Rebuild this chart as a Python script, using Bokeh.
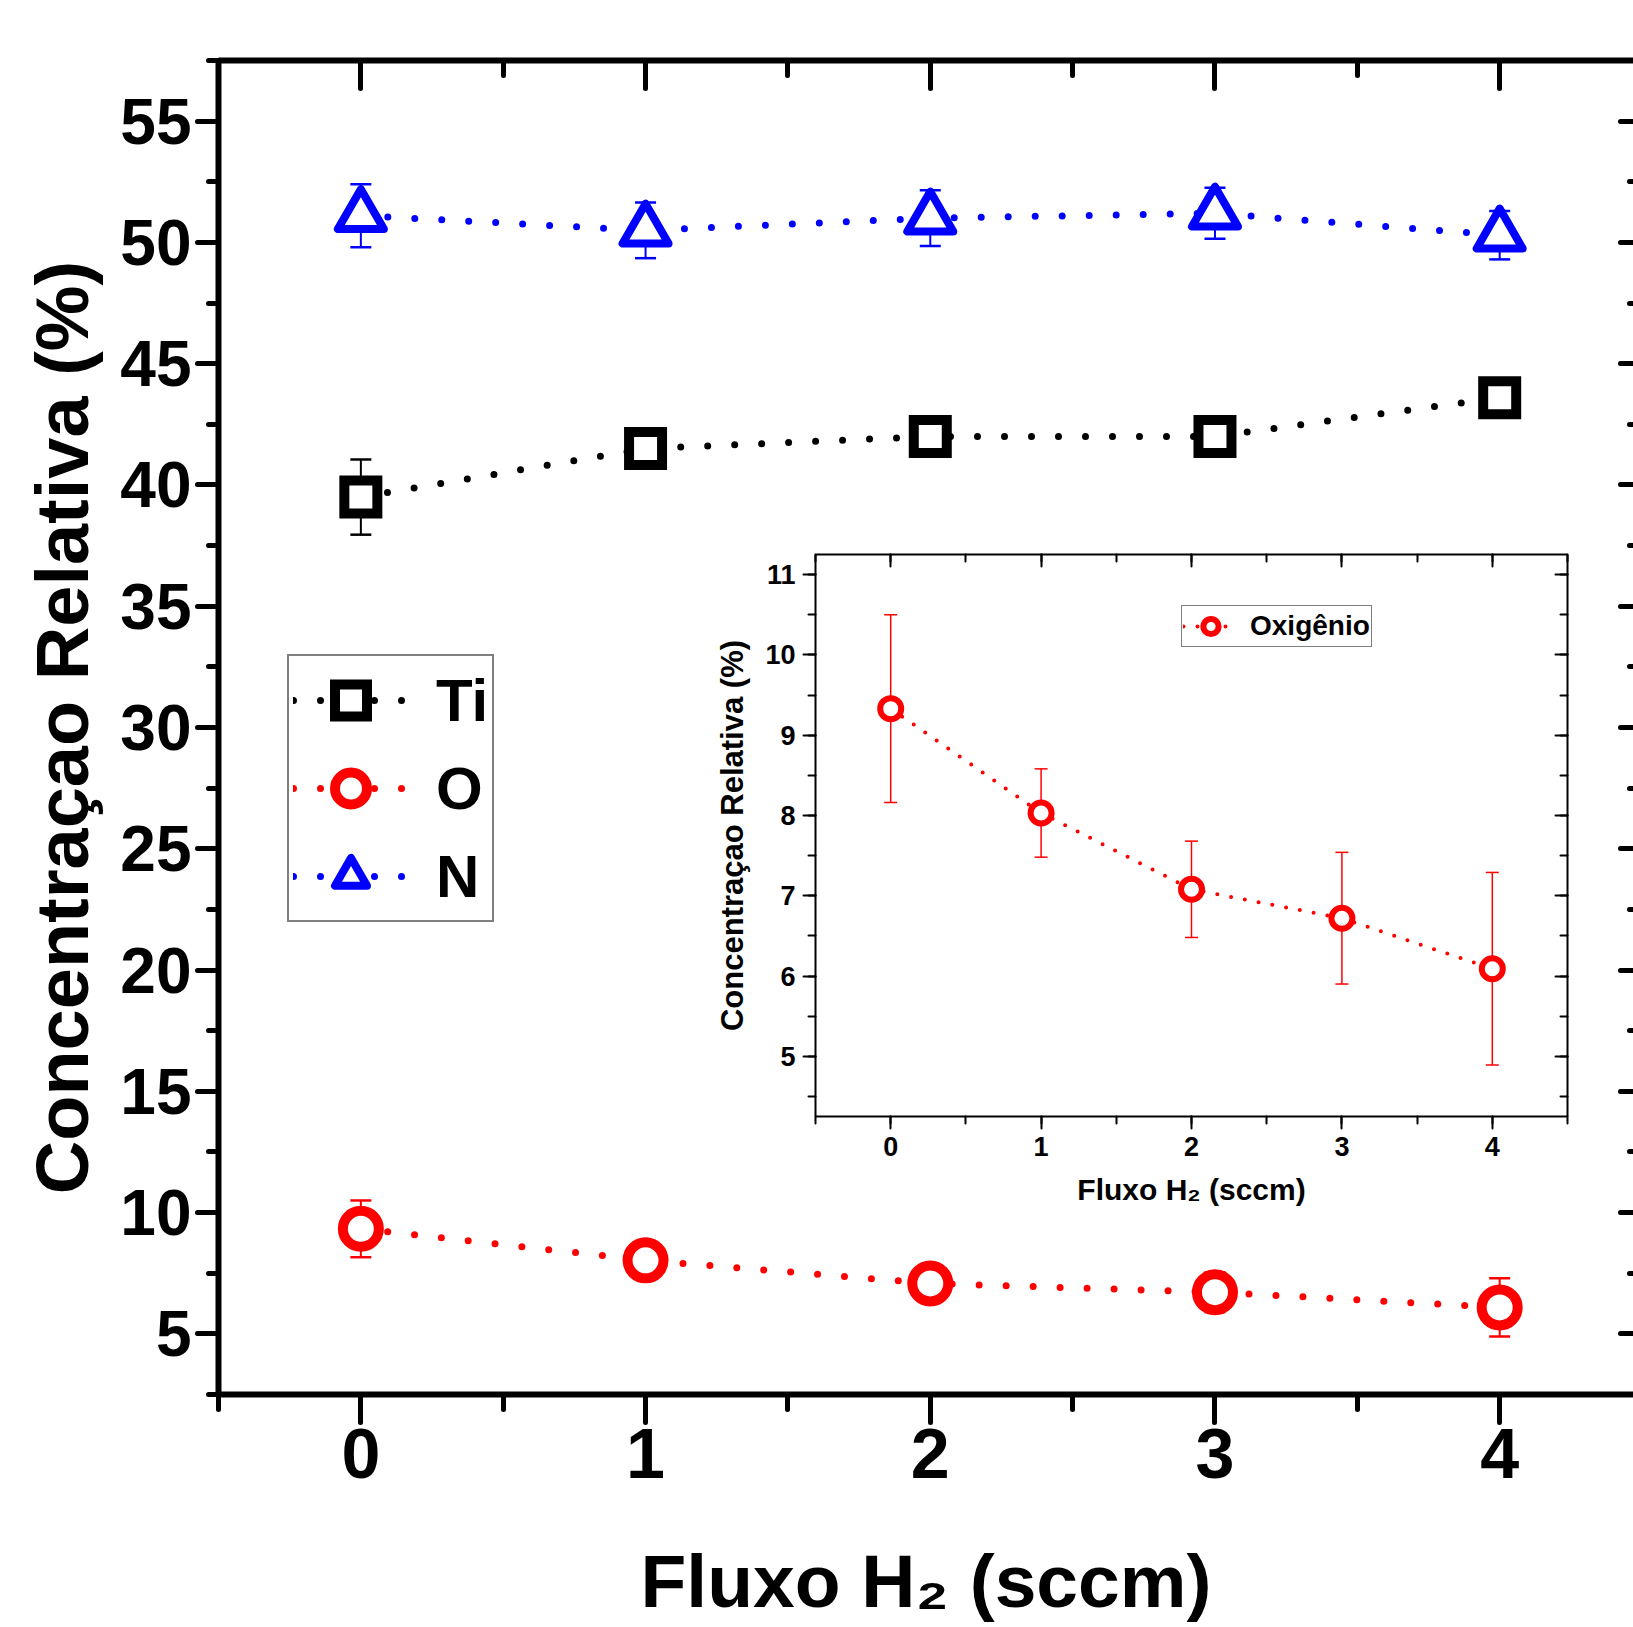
from bokeh.plotting import figure
from bokeh.models import (ColumnDataSource, Whisker, TeeHead, LinearAxis, Range1d,
                          SingleIntervalTicker, Legend, LegendItem)
from bokeh.embed import file_html
from bokeh.resources import INLINE

# ---------------- data ----------------
flux = [0, 1, 2, 3, 4]
ti = [39.5, 41.5, 42.0, 42.0, 43.6]
ti_err = [1.55, 0.35, 0.3, 0.3, 0.3]
o = [9.33, 8.03, 7.08, 6.72, 6.09]
o_err = [1.17, 0.55, 0.6, 0.82, 1.2]
n = [51.1, 50.5, 51.0, 51.2, 50.3]
n_err = [1.3, 1.15, 1.15, 1.05, 1.0]

x_title = "Fluxo H₂ (sccm)"
y_title = "Concentraçao Relativa (%)"
labels_main = ["Ti", "O", "N"]
label_inset = "Oxigênio"

FONT = "Liberation Sans"
RED = "#FF0000"
BLUE = "#0000FF"
BLACK = "#000000"


def src(y, e):
    return ColumnDataSource(dict(x=flux, y=y,
                                 upper=[a + b for a, b in zip(y, e)],
                                 lower=[a - b for a, b in zip(y, e)]))


def style_axis(ax, lw, tick_out, minor_out, tick_in, minor_in, label_size,
               standoff, title_size=None, title_standoff=0, tick_w=None):
    tw = tick_w if tick_w is not None else lw
    ax.axis_line_width = lw
    ax.axis_line_color = BLACK
    ax.major_tick_line_width = tw
    ax.minor_tick_line_width = tw
    ax.major_tick_line_color = BLACK
    ax.minor_tick_line_color = BLACK
    ax.major_tick_line_cap = "round"
    ax.minor_tick_line_cap = "round"
    ax.major_tick_out = tick_out
    ax.major_tick_in = tick_in
    ax.minor_tick_out = minor_out
    ax.minor_tick_in = minor_in
    ax.major_label_text_font = FONT
    ax.major_label_text_font_style = "bold"
    ax.major_label_standoff = standoff
    if label_size is None:
        ax.major_label_text_color = None
        ax.major_label_text_font_size = "1px"
    else:
        ax.major_label_text_color = BLACK
        ax.major_label_text_font_size = label_size
    if title_size:
        ax.axis_label_text_font = FONT
        ax.axis_label_text_font_style = "bold"
        ax.axis_label_text_color = BLACK
        ax.axis_label_text_font_size = title_size
        ax.axis_label_standoff = title_standoff


# ---------------- main figure ----------------
p = figure(width=1633, height=1627,
           x_range=Range1d(-0.5, 4.47), y_range=Range1d(2.5, 57.5),
           output_backend="svg", toolbar_location=None,
           min_border_left=218, min_border_right=0,
           min_border_top=60, min_border_bottom=233)
p.outline_line_color = None
p.xgrid.visible = False
p.ygrid.visible = False
p.background_fill_color = "white"
p.border_fill_color = "white"

xt = SingleIntervalTicker(interval=1, num_minor_ticks=2)
yt = SingleIntervalTicker(interval=5, num_minor_ticks=2)

xa = p.xaxis[0]
xa.ticker = xt
xa.axis_label = x_title
style_axis(xa, 6, 28, 15, 0, 0, "70px", 6, "75px", 58, tick_w=5)

ya = p.yaxis[0]
ya.ticker = yt
ya.axis_label = y_title
style_axis(ya, 6, 21, 10, 0, 0, "64px", 6, "74px", 13, tick_w=5)

top = LinearAxis(ticker=xt)
style_axis(top, 6, 0, 0, 28, 15, None, 0, tick_w=5)
p.add_layout(top, "above")

right = LinearAxis(ticker=yt)
style_axis(right, 6, 0, 0, 13, 4, None, 0, tick_w=5)
right.axis_line_color = None
p.add_layout(right, "right")

s_ti, s_o, s_n = src(ti, ti_err), src(o, o_err), src(n, n_err)

lines = {}
marks = {}
for key, s, col in (("Ti", s_ti, BLACK), ("O", s_o, RED), ("N", s_n, BLUE)):
    lines[key] = p.line("x", "y", source=s, line_color=col, line_width=7,
                        line_dash="0 27", line_cap="round")
    p.add_layout(Whisker(source=s, base="x", upper="upper", lower="lower",
                         line_color=col, line_width=2, level="underlay",
                         upper_head=TeeHead(size=21, line_color=col, line_width=2.5),
                         lower_head=TeeHead(size=21, line_color=col, line_width=2.5)))

marks["Ti"] = p.scatter("x", "y", source=s_ti, marker="square", size=33,
                        line_color=BLACK, line_width=10, fill_color="white",
                        line_join="miter")
marks["O"] = p.scatter("x", "y", source=s_o, marker="circle", size=36,
                       line_color=RED, line_width=10, fill_color="white")
marks["N"] = p.scatter("x", "y", source=s_n, marker="triangle", size=46,
                       line_color=BLUE, line_width=8, fill_color="white",
                       line_join="round")

legend = Legend(items=[LegendItem(label=lab, renderers=[lines[lab], marks[lab]])
                       for lab in labels_main],
                location=(69, 472), orientation="vertical",
                label_text_font=FONT, label_text_font_style="bold",
                label_text_font_size="60px", label_text_color=BLACK,
                glyph_width=115, glyph_height=80, label_height=80,
                label_standoff=28, spacing=8, padding=4, margin=0,
                border_line_color=BLACK, border_line_width=2,
                background_fill_color="white", background_fill_alpha=1)
p.add_layout(legend)

# ---------------- inset figure ----------------
q = figure(width=879, height=676,
           x_range=Range1d(-0.5, 4.5), y_range=Range1d(4.25, 11.25),
           output_backend="svg", toolbar_location=None,
           min_border_left=115, min_border_right=12,
           min_border_top=18, min_border_bottom=96)
q.outline_line_color = None
q.xgrid.visible = False
q.ygrid.visible = False
q.background_fill_color = "white"
q.border_fill_color = "white"
q.styles = {"position": "absolute", "left": "700px", "top": "536px"}

qxt = SingleIntervalTicker(interval=1, num_minor_ticks=2)
qyt = SingleIntervalTicker(interval=1, num_minor_ticks=2)

qx = q.xaxis[0]
qx.ticker = qxt
qx.axis_label = x_title
style_axis(qx, 2, 12, 7, 0, 0, "27px", 8, "30px", 14)

qy = q.yaxis[0]
qy.ticker = qyt
qy.axis_label = y_title
style_axis(qy, 2, 12, 7, 0, 0, "27px", 8, "31px", 12)

qtop = LinearAxis(ticker=qxt)
style_axis(qtop, 2, 0, 0, 12, 7, None, 0)
q.add_layout(qtop, "above")

qright = LinearAxis(ticker=qyt)
style_axis(qright, 2, 0, 0, 12, 7, None, 0)
q.add_layout(qright, "right")

s_o2 = src(o, o_err)
ql = q.line("x", "y", source=s_o2, line_color=RED, line_width=4,
            line_dash="0 14", line_cap="round")
q.add_layout(Whisker(source=s_o2, base="x", upper="upper", lower="lower",
                     line_color=RED, line_width=1.5, level="underlay",
                     upper_head=TeeHead(size=13, line_color=RED, line_width=1.5),
                     lower_head=TeeHead(size=13, line_color=RED, line_width=1.5)))
qm = q.scatter("x", "y", source=s_o2, marker="circle", size=21,
               line_color=RED, line_width=6, fill_color="white")

qleg = Legend(items=[LegendItem(label=label_inset, renderers=[ql, qm])],
              location=(366, 469),
              label_text_font=FONT, label_text_font_style="bold",
              label_text_font_size="28px", label_text_color=BLACK,
              glyph_width=55, glyph_height=38, label_height=38,
              label_standoff=12, spacing=0, padding=1, margin=0,
              border_line_color=BLACK, border_line_width=1.5,
              background_fill_color="white", background_fill_alpha=1)
q.add_layout(qleg)

open("out.html", "w").write(file_html([p, q], INLINE))
